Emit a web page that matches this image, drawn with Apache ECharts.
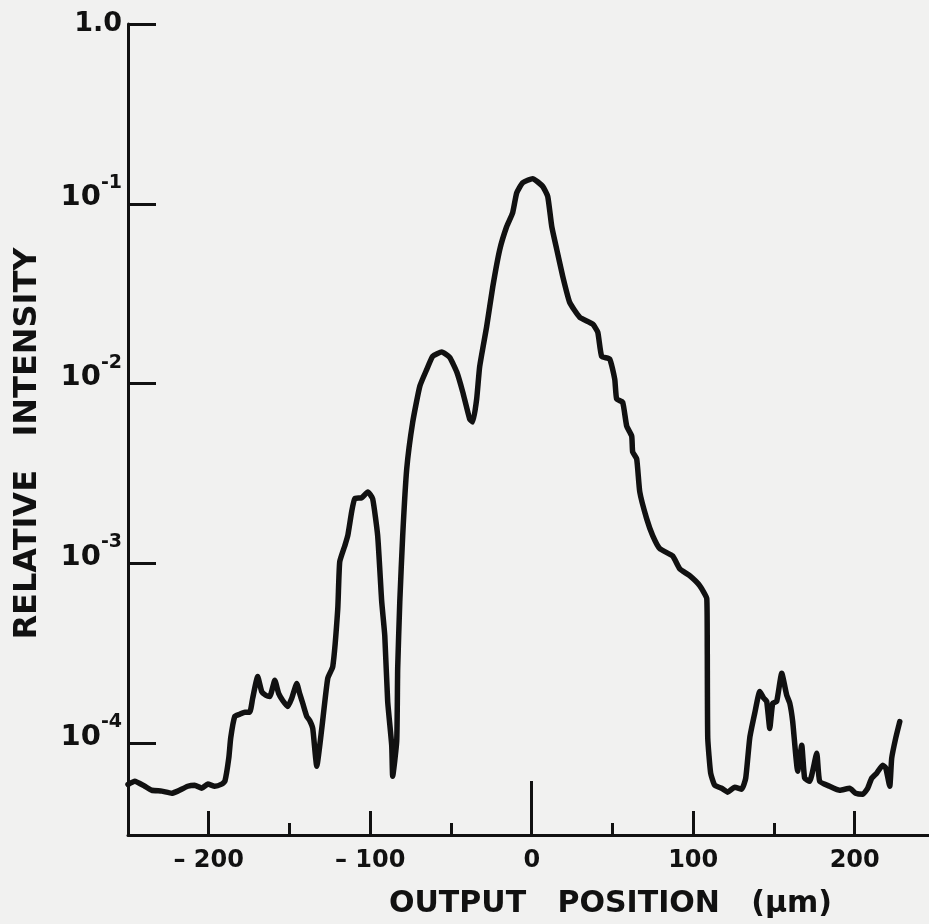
<!doctype html>
<html lang="en">
  <head>
    <meta charset="utf-8">
    <title>Relative intensity vs output position</title>
    <script src="https://cdn.jsdelivr.net/npm/echarts@6/dist/echarts.min.js"></script>
    <style>
      html, body { margin: 0; padding: 0; background: #f1f1f0; }
      #chart { width: 929px; height: 924px; }
    </style>
  </head>
  <body>
    <div id="chart"></div>
    <script>
    // output position (um) and relative intensity
    var positions = [
      -250, -245.8, -239.6, -235.3, -229.1, -222.9, -219.2, -213, -208.7, -204.3,
      -200.6, -196.3, -192, -190, -187.6, -186.4, -183.9, -180.8, -177.7, -174.6,
      -172.8, -169.7, -167.2, -164.7, -162.2, -159.1, -156.7, -154.2, -151.1, -148.6,
      -145.5, -143.7, -141.8, -139.3, -137.5, -135.6, -133.1, -130, -126.3, -123.2,
      -120.1, -118.9, -115.8, -113.9, -111.5, -109.6, -105.3, -101.5, -98.5, -95.4,
      -92.9, -91, -89.2, -86.7, -86.1, -83.6, -83, -81.7, -79.9, -77.4,
      -73.7, -69.3, -65, -61.3, -55.7, -50.8, -46.4, -42.7, -38.4, -36.5,
      -34.1, -32.2, -27.9, -24.1, -19.8, -15.5, -11.8, -9.3, -5.6, 0.6,
      6.8, 9.9, 12.4, 15.5, 19.2, 23.5, 29.7, 37.8, 40.9, 43.3,
      48.3, 51.4, 52.6, 56.3, 58.8, 61.9, 62.5, 65, 66.9, 71.2,
      74.9, 79.3, 87.3, 91.6, 97.8, 104, 108.4, 108.7, 109, 110.8,
      113.3, 117.6, 121.4, 125.7, 130, 132.5, 135, 138.1, 141.2, 143.7,
      145.5, 147.4, 149.2, 151.7, 154.8, 157.9, 159.8, 161.6, 164.7, 167.2,
      169, 172.1, 176.5, 178.3, 184.5, 190.7, 196.9, 200.6, 205, 208,
      210.5, 213.6, 217.3, 219.2, 221.7, 222.9, 225.4, 227.9
    ];
    var intensity = [
      5.9e-5, 6.15e-5, 5.77e-5, 5.48e-5, 5.42e-5, 5.28e-5, 5.42e-5, 5.77e-5, 5.85e-5, 5.62e-5,
      5.93e-5, 5.77e-5, 5.93e-5, 6.15e-5, 8.26e-5, 1.07e-4, 1.41e-4, 1.45e-4, 1.49e-4, 1.49e-4,
      1.78e-4, 2.35e-4, 1.94e-4, 1.85e-4, 1.82e-4, 2.24e-4, 1.89e-4, 1.73e-4, 1.60e-4, 1.78e-4,
      2.15e-4, 1.89e-4, 1.67e-4, 1.41e-4, 1.34e-4, 1.21e-4, 7.45e-5, 1.21e-4, 2.30e-4, 2.67e-4,
      5.61e-4, 1.02e-3, 1.25e-3, 1.43e-3, 1.94e-3, 2.29e-3, 2.32e-3, 2.50e-3, 2.29e-3, 1.43e-3,
      6.14e-4, 3.97e-4, 1.71e-4, 9.75e-5, 6.56e-5, 1.03e-4, 2.61e-4, 6.14e-4, 1.43e-3, 3.36e-3,
      6.11e-3, 9.68e-3, 1.20e-2, 1.42e-2, 1.50e-2, 1.40e-2, 1.16e-2, 8.97e-3, 6.35e-3, 6.11e-3,
      8.20e-3, 1.25e-2, 2.08e-2, 3.47e-2, 5.57e-2, 7.48e-2, 8.93e-2, 0.115, 0.131, 0.138,
      0.125, 0.110, 7.48e-2, 5.57e-2, 3.95e-2, 2.83e-2, 2.34e-2, 2.14e-2, 1.93e-2, 1.42e-2,
      1.37e-2, 1.06e-2, 8.20e-3, 7.89e-3, 5.81e-3, 5.11e-3, 4.17e-3, 3.81e-3, 2.50e-3, 1.77e-3,
      1.43e-3, 1.21e-3, 1.10e-3, 9.35e-4, 8.55e-4, 7.53e-4, 6.37e-4, 3.37e-4, 1.07e-4, 6.82e-5,
      5.85e-5, 5.62e-5, 5.35e-5, 5.70e-5, 5.56e-5, 6.39e-5, 1.07e-4, 1.47e-4, 1.94e-4, 1.78e-4,
      1.71e-4, 1.21e-4, 1.67e-4, 1.71e-4, 2.45e-4, 1.85e-4, 1.67e-4, 1.32e-4, 7.0e-5, 9.75e-5,
      6.39e-5, 6.15e-5, 8.8e-5, 6.15e-5, 5.77e-5, 5.48e-5, 5.62e-5, 5.28e-5, 5.21e-5, 5.62e-5,
      6.39e-5, 6.82e-5, 7.55e-5, 7.3e-5, 5.77e-5, 8.26e-5, 1.07e-4, 1.32e-4
    ];

    var xMajorTicks = [-200, -100, 100, 200];
    var xCentreTick = [0];
    var xMinorTicks = [-150, -50, 50, 150];
    var xLabels = [-200, -100, 0, 100, 200];
    var yTicks = [1e-4, 1e-3, 1e-2, 1e-1, 1];
    var yLabels = ['1.0', '-1', '-2', '-3', '-4'];

    var ink = '#111';
    var font = 'DejaVu Sans';

    var chart = echarts.init(document.getElementById('chart'), null, { renderer: 'canvas' });

    var points = positions.map(function (p, i) { return [p, intensity[i]]; });

    function tickAxis(values, len, extra) {
      var ax = {
        type: 'value', gridIndex: 0, position: 'bottom', min: -250, max: 246,
        axisLine: { show: false },
        axisTick: { show: true, inside: true, length: len, customValues: values,
          lineStyle: { color: ink, width: 3 } },
        axisLabel: { show: false },
        splitLine: { show: false }
      };
      return Object.assign(ax, extra || {});
    }
    function ts(extra) {
      return Object.assign({ color: ink, fontFamily: font, fontWeight: 'bold' }, extra);
    }

    var option = {
      backgroundColor: '#f1f1f0',
      animation: false,
      grid: { left: 128, right: 0, top: 24, bottom: 87 },
      xAxis: [
        tickAxis(xMajorTicks, 24, {
          axisLine: { show: true, onZero: false, lineStyle: { color: ink, width: 3 } },
          axisLabel: {
            show: true, customValues: xLabels, margin: 14,
            color: ink, fontFamily: font, fontWeight: 'bold', fontSize: 24,
            formatter: function (v) { return v < 0 ? '\u2013 ' + (-v) : String(v); }
          },
          name: 'OUTPUT   POSITION   (\u03bcm)', nameLocation: 'middle', nameGap: 54,
          nameTextStyle: { color: ink, fontFamily: font, fontWeight: 'bold', fontSize: 30,
            padding: [0, 0, 0, 164] }
        }),
        tickAxis(xCentreTick, 54),
        tickAxis(xMinorTicks, 12)
      ],
      yAxis: {
        type: 'log', logBase: 10, min: Math.pow(10, -4.51), max: 1,
        axisLine: { show: true, onZero: false, lineStyle: { color: ink, width: 3 } },
        axisTick: { show: true, inside: true, length: 28, customValues: yTicks,
          lineStyle: { color: ink, width: 3 } },
        axisLabel: {
          show: true, customValues: yTicks, margin: 6,
          formatter: function (v) {
            var k = -Math.round(Math.log10(v));
            if (k === 0) return '{o|' + yLabels[0] + '}';
            return '{a|10}{s|' + yLabels[k] + '}\n{e| }';
          },
          rich: {
            o: ts({ fontSize: 27, lineHeight: 29 }),
            a: ts({ fontSize: 29, lineHeight: 29, verticalAlign: 'bottom' }),
            s: ts({ fontSize: 19, lineHeight: 19, verticalAlign: 'bottom', padding: [0, 0, 20, 0] }),
            e: ts({ fontSize: 2, lineHeight: 12 })
          }
        },
        splitLine: { show: false },
        minorTick: { show: false },
        name: 'RELATIVE   INTENSITY', nameLocation: 'middle', nameGap: 84, nameRotate: 90,
        nameTextStyle: { color: ink, fontFamily: font, fontWeight: 'bold', fontSize: 32,
          padding: [0, 28, 0, 0] }
      },
      series: [{
        type: 'line',
        xAxisIndex: 0,
        data: points,
        showSymbol: false,
        smooth: 0.15,
        lineStyle: { color: ink, width: 5.5, join: 'round', cap: 'round' }
      }]
    };

    chart.setOption(option);
    </script>
  </body>
</html>
